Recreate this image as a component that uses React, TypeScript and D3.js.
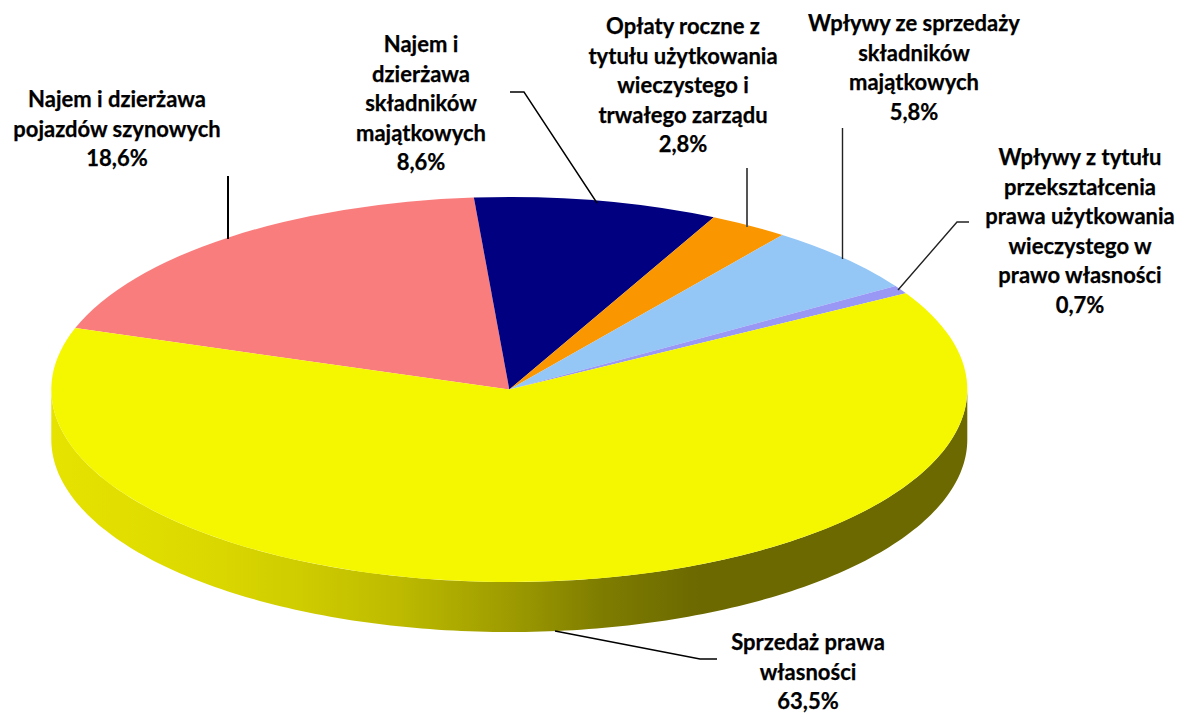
import React from "react";
import * as d3 from "d3";

const WIDTH = 1182;
const HEIGHT = 713;

const categories = [
  "Najem i dzierżawa pojazdów szynowych",
  "Najem i dzierżawa składników majątkowych",
  "Opłaty roczne z tytułu użytkowania wieczystego i trwałego zarządu",
  "Wpływy ze sprzedaży składników majątkowych",
  "Wpływy z tytułu przekształcenia prawa użytkowania wieczystego w prawo własności",
  "Sprzedaż prawa własności",
];
const values = [18.6, 8.6, 2.8, 5.8, 0.7, 63.5];
const colors = ["#fa7d7d", "#000080", "#fa9600", "#94c6f6", "#9999f5", "#f5f700"];

const labelLines = [
  ["Najem i dzierżawa", "pojazdów szynowych", "18,6%"],
  ["Najem i", "dzierżawa", "składników", "majątkowych", "8,6%"],
  ["Opłaty roczne z", "tytułu użytkowania", "wieczystego i", "trwałego zarządu", "2,8%"],
  ["Wpływy ze sprzedaży", "składników", "majątkowych", "5,8%"],
  ["Wpływy z tytułu", "przekształcenia", "prawa użytkowania", "wieczystego w", "prawo własności", "0,7%"],
  ["Sprzedaż prawa", "własności", "63,5%"],
];
const labelCenters = [117, 421, 683, 914, 1080, 808];
const labelFirstBaselines = [107, 52, 34, 31, 165, 650];

const leaderLines: [number, number][][] = [
  [[228, 176], [228, 239]],
  [[510, 92], [524, 92], [597, 203]],
  [[747, 168], [747, 227]],
  [[842.5, 128], [842.5, 259]],
  [[969, 222], [957, 222], [898, 290]],
  [[555, 631], [700, 659], [717, 659]],
];
const leaderColors = ["#000", "#000", "#555", "#222", "#222", "#000"];
const leaderWidths = [2, 1.4, 2, 1.4, 1.4, 1.4];

const cx = 509.3;
const cy = 389.5;
const rx = 458;
const ry = 192.5;
const depth = 50;
const startDeg = -71.4;
const LINE_HEIGHT = 29.6;

const rad = (d: number) => (d * Math.PI) / 180;

const pie = d3
  .pie<number>()
  .sort(null)
  .startAngle(rad(startDeg))
  .endAngle(rad(startDeg + 360));
const arcs = pie(values);
const arcGen = d3.arc<d3.PieArcDatum<number>>().innerRadius(0).outerRadius(rx);

const sideAngles = d3.range(90, 270.01, 1).map(rad);
const sideArea = d3
  .area<number>()
  .x((a) => cx + rx * Math.sin(a))
  .y0((a) => cy - ry * Math.cos(a))
  .y1((a) => cy - ry * Math.cos(a) + depth);

const leaderLine = d3.line();

const gradientStops = [
  { x: 51, c: "#e6e300" },
  { x: 200, c: "#dcd900" },
  { x: 300, c: "#cfcc00" },
  { x: 400, c: "#bdba00" },
  { x: 520, c: "#9a9800" },
  { x: 600, c: "#7f7d00" },
  { x: 700, c: "#6b6900" },
  { x: 967, c: "#6b6900" },
];
const stopScale = d3.scaleLinear().domain([51, 967]).range([0, 100]);

export default function App() {
  return (
    <svg
      width={WIDTH}
      height={HEIGHT}
      viewBox={`0 0 ${WIDTH} ${HEIGHT}`}
      style={{ position: "absolute", left: 0, top: 0, background: "#fff" }}
    >
      <defs>
        <linearGradient id="side" gradientUnits="userSpaceOnUse" x1={51} x2={967} y1={0} y2={0}>
          {gradientStops.map((s) => (
            <stop key={s.x} offset={`${stopScale(s.x)}%`} stopColor={s.c} />
          ))}
        </linearGradient>
      </defs>

      <path d={sideArea(sideAngles) ?? ""} fill="url(#side)" />

      <g transform={`translate(${cx},${cy}) scale(1,${ry / rx})`}>
        {arcs.map((a, i) => (
          <path key={categories[i]} d={arcGen(a) ?? ""} fill={colors[i]} />
        ))}
      </g>

      {leaderLines.map((pts, i) => (
        <path
          key={i}
          d={leaderLine(pts) ?? ""}
          fill="none"
          stroke={leaderColors[i]}
          strokeWidth={leaderWidths[i]}
        />
      ))}

      {labelLines.map((lines, i) => (
        <text
          key={categories[i]}
          textAnchor="middle"
          fontFamily="Lato, 'Open Sans', sans-serif"
          fontWeight={700}
          fontSize={22}
          fill="#000"
          stroke="#000"
          strokeWidth={0.25}
        >
          {lines.map((l, j) => (
            <tspan key={j} x={labelCenters[i]} y={labelFirstBaselines[i] + j * LINE_HEIGHT}>
              {l}
            </tspan>
          ))}
        </text>
      ))}
    </svg>
  );
}
